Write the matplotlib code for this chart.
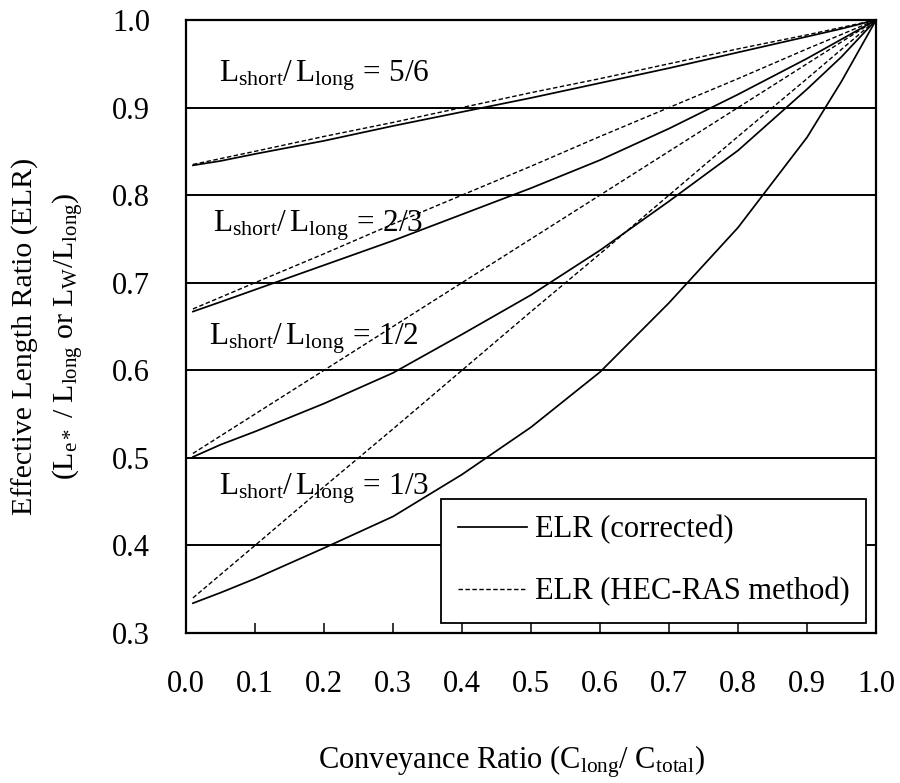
import matplotlib
matplotlib.use("Agg")
import matplotlib.pyplot as plt

# ── Fonts: Times-like serif everywhere, mathtext for the subscripts ───────────
plt.rcParams["font.family"] = "Liberation Serif"
plt.rcParams["mathtext.fontset"] = "custom"
plt.rcParams["mathtext.rm"] = "Liberation Serif"
plt.rcParams["mathtext.it"] = "Liberation Serif:italic"

# ── Data ─────────────────────────────────────────────────────────────────────
# Conveyance ratio C_long / C_total
X_CORR = [0.01, 0.05, 0.1, 0.2, 0.3, 0.4, 0.5, 0.6, 0.7, 0.8, 0.9, 0.95, 1.0]
X_HEC  = [0.01, 0.1, 0.2, 0.3, 0.4, 0.5, 0.6, 0.7, 0.8, 0.9, 1.0]

# ELR (corrected) — solid curves, one per L_short / L_long
ELR_CORR_56 = [0.834, 0.839, 0.847, 0.862, 0.879, 0.895, 0.911, 0.928, 0.945, 0.963, 0.981, 0.990, 1.0]
ELR_CORR_23 = [0.667, 0.678, 0.692, 0.720, 0.748, 0.778, 0.808, 0.840, 0.876, 0.915, 0.956, 0.978, 1.0]
ELR_CORR_12 = [0.501, 0.515, 0.530, 0.562, 0.597, 0.641, 0.686, 0.737, 0.793, 0.851, 0.921, 0.958, 1.0]
ELR_CORR_13 = [0.334, 0.346, 0.362, 0.397, 0.433, 0.481, 0.535, 0.598, 0.677, 0.763, 0.866, 0.930, 1.0]

# ELR (HEC-RAS method) — dashed lines
ELR_HEC_56 = [0.835, 0.850, 0.867, 0.883, 0.900, 0.917, 0.933, 0.950, 0.967, 0.983, 1.0]
ELR_HEC_23 = [0.670, 0.700, 0.733, 0.767, 0.800, 0.833, 0.867, 0.900, 0.933, 0.967, 1.0]
ELR_HEC_12 = [0.505, 0.550, 0.600, 0.650, 0.700, 0.750, 0.800, 0.850, 0.900, 0.950, 1.0]
ELR_HEC_13 = [0.340, 0.400, 0.467, 0.533, 0.600, 0.667, 0.733, 0.800, 0.867, 0.933, 1.0]

RATIO_LABELS = ["5/6", "2/3", "1/2", "1/3"]
X_TICKS = [0.0, 0.1, 0.2, 0.3, 0.4, 0.5, 0.6, 0.7, 0.8, 0.9, 1.0]
Y_TICKS = [0.3, 0.4, 0.5, 0.6, 0.7, 0.8, 0.9, 1.0]

FS = 22

# ── Figure ────────────────────────────────────────────────────────────────────
fig = plt.figure(figsize=(9.0, 7.83), dpi=100)
ax = fig.add_axes([0.2067, 0.1916, 0.7667, 0.7829])

DASH = (0, (3.2, 1.8))

corr_sets = [ELR_CORR_56, ELR_CORR_23, ELR_CORR_12, ELR_CORR_13]
hec_sets  = [ELR_HEC_56, ELR_HEC_23, ELR_HEC_12, ELR_HEC_13]
for i, (yc, yh) in enumerate(zip(corr_sets, hec_sets)):
    ax.plot(X_HEC, yh, color="black", lw=1.0, linestyle=DASH,
            label="ELR (HEC-RAS method)" if i == 0 else None, zorder=3)
    ax.plot(X_CORR, yc, color="black", lw=1.25,
            label="ELR (corrected)" if i == 0 else None, zorder=3)

# ratio labels (left edge, baseline) placed in data coords
label_pos = [(0.048, 0.930), (0.039, 0.758), (0.034, 0.629), (0.048, 0.458)]
for (lx, ly), r in zip(label_pos, RATIO_LABELS):
    ax.text(lx, ly, r"$\mathrm{L_{short}/\,L_{long}\,=\,%s}$" % r,
            fontsize=22.5, ha="left", va="baseline", zorder=2)

ax.set_xlim(0, 1)
ax.set_ylim(0.3, 1.0)
ax.set_xticks(X_TICKS)
ax.set_xticklabels([f"{v:.1f}" for v in X_TICKS])
ax.set_yticks(Y_TICKS)
ax.set_yticklabels([f"{v:.1f}" for v in Y_TICKS])
ax.tick_params(axis="x", direction="in", length=7, width=1.1, pad=27,
               labelsize=FS, top=False)
ax.tick_params(axis="y", length=0, pad=26, labelsize=FS)
ax.yaxis.grid(True, color="black", lw=1.4)
ax.set_axisbelow(True)
for sp in ax.spines.values():
    sp.set_linewidth(1.6)

# legend — order: corrected first, HEC-RAS second
handles, labels = ax.get_legend_handles_labels()
order = [labels.index("ELR (corrected)"), labels.index("ELR (HEC-RAS method)")]
leg = ax.legend([handles[k] for k in order], [labels[k] for k in order],
                loc="lower right", bbox_to_anchor=(0.986, 0.016),
                fontsize=FS, handlelength=2.25, handletextpad=0.26,
                labelspacing=1.06, borderpad=0.55, borderaxespad=0.0,
                fancybox=False, framealpha=1.0, edgecolor="black")
leg.get_frame().set_linewidth(1.3)

# axis titles
fig.text(25 / 900, 1 - 336 / 783, "Effective Length Ratio (ELR)",
         rotation=90, fontsize=21.5, ha="center", va="center")
fig.text(69 / 900, 1 - 336 / 783,
         r"$\mathrm{(L_{e*}\ /\ L_{long}\ or\ L_{W}/L_{long})}$",
         rotation=90, fontsize=21.5, ha="center", va="center")
fig.text(511 / 900, 1 - 762 / 783,
         r"$\mathrm{Conveyance\ Ratio\ (C_{long}/\ C_{total})}$",
         fontsize=FS, ha="center", va="center")

fig.savefig("out.png", dpi=100)
plt.close(fig)
